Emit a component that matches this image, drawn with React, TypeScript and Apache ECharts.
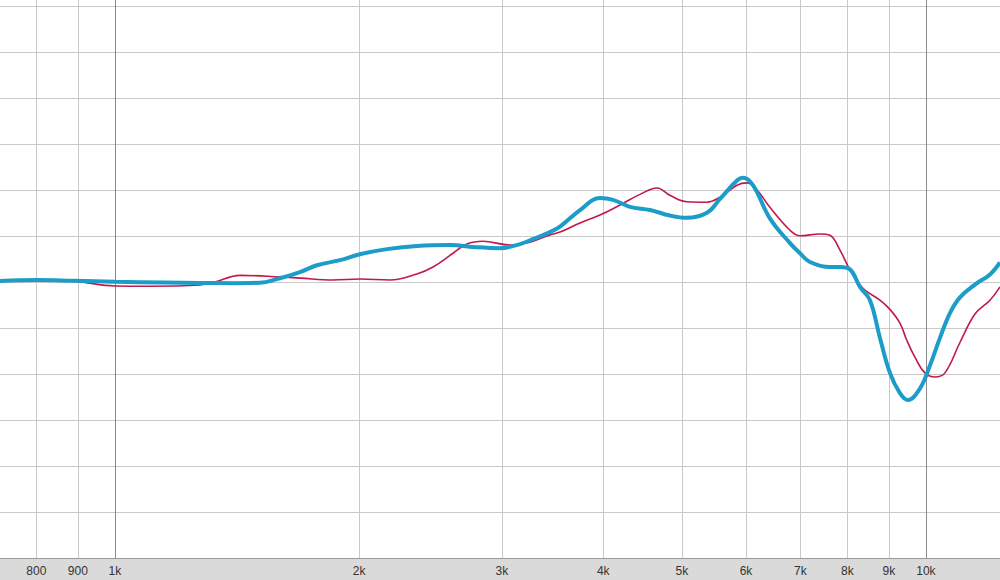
import { useEffect, useRef } from 'react';
import * as echarts from 'echarts';

const tickFreqs = [800, 900, 1000, 2000, 3000, 4000, 5000, 6000, 7000, 8000, 9000, 10000];
const tickLabels = ['800', '900', '1k', '2k', '3k', '4k', '5k', '6k', '7k', '8k', '9k', '10k'];

const blueFreqs = [721, 800, 893, 1000, 1150, 1273, 1400, 1509, 1584, 1691, 1774, 1894, 2005, 2165, 2357, 2589, 2795, 2983, 3158, 3249, 3439, 3538, 3745, 3963, 4113, 4315, 4568, 4834, 5073, 5370, 5572, 5848, 5949, 6119, 6420, 6798, 6994, 7194, 7613, 7834, 8059, 8291, 8530, 8776, 9028, 9288, 9502, 9831, 10114, 10406, 10705, 11013, 11494, 11994, 12339];
const blueDb = [0.18, 0.29, 0.2, 0.1, 0.02, -0.03, -0.05, 0.0, 0.4, 1.16, 1.9, 2.45, 3.1, 3.65, 4.0, 4.1, 3.85, 3.75, 4.2, 4.6, 5.5, 6.1, 7.9, 9.2, 9.0, 8.25, 7.9, 7.3, 7.05, 7.6, 9.1, 11.1, 11.4, 10.6, 7.0, 4.3, 3.2, 2.25, 1.7, 1.7, 1.45, -0.45, -1.9, -6.0, -9.8, -12.0, -12.75, -11.5, -9.0, -6.0, -3.3, -1.6, -0.2, 0.9, 2.2];

const redFreqs = [721, 800, 893, 1000, 1104, 1273, 1328, 1426, 1600, 1691, 1857, 2005, 2183, 2357, 2467, 2611, 2716, 2843, 3069, 3249, 3439, 3538, 3745, 3963, 4196, 4440, 4660, 4834, 5073, 5370, 5572, 5848, 6016, 6188, 6420, 6798, 6994, 7401, 7613, 7834, 8059, 8362, 8776, 9028, 9288, 9465, 9692, 9972, 10259, 10554, 11013, 11494, 11994, 12339];
const redDb = [0.18, 0.29, 0.15, -0.35, -0.38, -0.25, 0.08, 0.8, 0.62, 0.5, 0.3, 0.4, 0.3, 0.95, 1.7, 3.2, 4.2, 4.5, 4.1, 4.4, 5.2, 5.5, 6.5, 7.35, 8.45, 9.6, 10.3, 9.5, 8.8, 8.75, 9.3, 10.6, 10.85, 10.1, 8.2, 5.7, 5.1, 5.3, 5.15, 3.55, 1.4, -0.6, -1.9, -2.9, -4.4, -6.2, -8.1, -9.8, -10.25, -9.8, -6.5, -3.4, -1.9, -0.45];

const lightGrid = '#c9c9c9';
const darkGrid = '#8a8a8a';

export default function App() {
  const ref = useRef<HTMLDivElement>(null);
  useEffect(() => {
    if (!ref.current) return;
    const chart = echarts.init(ref.current, undefined, { renderer: 'svg' });
    const splitColors = tickFreqs.map((f) => (f === 1000 || f === 10000 ? darkGrid : lightGrid));
    chart.setOption({
      animation: false,
      backgroundColor: '#dadada',
      grid: {
        show: true,
        left: 0,
        right: 0,
        top: 0,
        bottom: 21.3,
        backgroundColor: '#ffffff',
        borderWidth: 0,
      },
      xAxis: {
        type: 'log',
        min: 721.5,
        max: 12340,
        axisLine: { show: true, onZero: false, lineStyle: { color: '#9a9a9a', width: 1 } },
        axisTick: { show: false, customValues: tickFreqs },
        axisLabel: {
          customValues: tickFreqs,
          margin: 6,
          fontSize: 12,
          color: '#333333',
          fontFamily: 'Liberation Sans, Arial, sans-serif',
          formatter: (v: number) => {
            const i = tickFreqs.indexOf(Math.round(v));
            return i >= 0 ? tickLabels[i] : '';
          },
        },
        splitLine: { show: true, lineStyle: { color: splitColors, width: 1 } },
      },
      yAxis: {
        type: 'value',
        min: -30,
        max: 30.73,
        interval: 5,
        axisLine: { show: false },
        axisTick: { show: false },
        axisLabel: { show: false },
        splitLine: { show: true, showMaxLine: false, lineStyle: { color: lightGrid, width: 1 } },
      },
      series: [
        {
          type: 'line',
          name: 'red',
          data: redFreqs.map((f, i) => [f, redDb[i]]),
          showSymbol: false,
          smooth: 0.4,
          lineStyle: { color: '#c2184b', width: 1.6 },
          itemStyle: { color: '#c2184b' },
          z: 2,
        },
        {
          type: 'line',
          name: 'blue',
          data: blueFreqs.map((f, i) => [f, blueDb[i]]),
          showSymbol: false,
          smooth: 0.4,
          lineStyle: { color: '#1b9cc9', width: 4 },
          itemStyle: { color: '#1b9cc9' },
          z: 3,
        },
      ],
    });
    return () => chart.dispose();
  }, []);
  return (
    <div
      ref={ref}
      style={{ position: 'fixed', left: 0, top: 0, width: 1000, height: 580 }}
    />
  );
}
